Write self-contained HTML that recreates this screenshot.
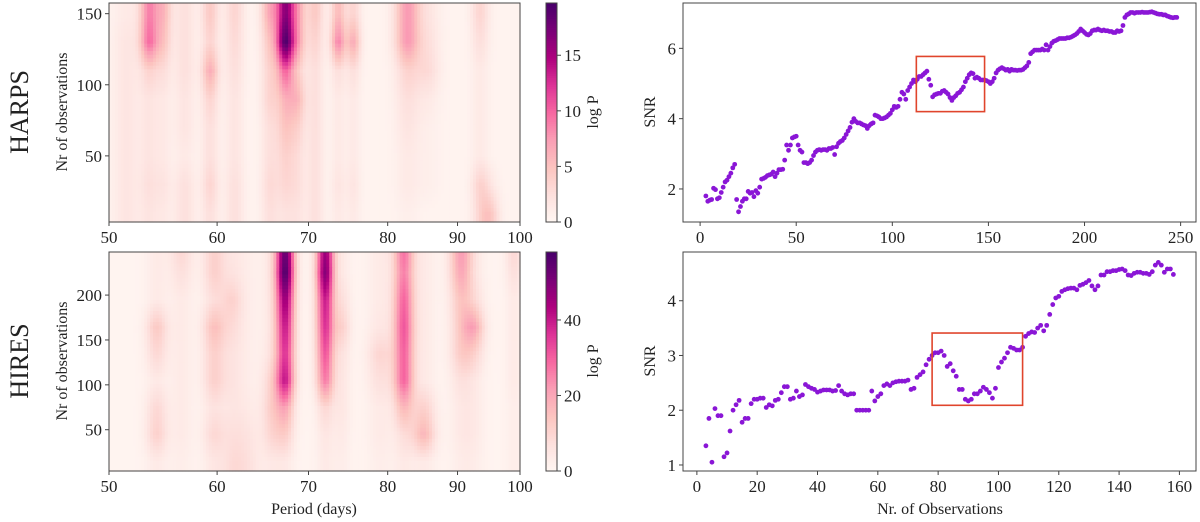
<!DOCTYPE html>
<html><head><meta charset="utf-8"><style>
html,body{margin:0;padding:0;background:#fff;width:1200px;height:522px;overflow:hidden}
svg{display:block}
text{font-family:"Liberation Serif","DejaVu Serif",serif;fill:#222}
</style></head><body>
<svg id="fig" width="1200" height="522" viewBox="0 0 1200 522" xmlns="http://www.w3.org/2000/svg">
<g id="hm1"></g>
<g id="hm2"></g>
<g id="cb1"></g>
<g id="cb2"></g>
<g id="sc1"></g>
<g id="sc2"></g>
<g id="ax"></g>
<text transform="translate(28,112) rotate(-90)" text-anchor="middle" font-size="26">HARPS</text>
<text transform="translate(28,361) rotate(-90)" text-anchor="middle" font-size="26">HIRES</text>
<text transform="translate(67,112) rotate(-90)" text-anchor="middle" font-size="16">Nr of observations</text>
<text transform="translate(67,361) rotate(-90)" text-anchor="middle" font-size="16">Nr of observations</text>
<text transform="translate(598,112) rotate(-90)" text-anchor="middle" font-size="16">log P</text>
<text transform="translate(598,361) rotate(-90)" text-anchor="middle" font-size="16">log P</text>
<text transform="translate(655,112) rotate(-90)" text-anchor="middle" font-size="16">SNR</text>
<text transform="translate(655,361) rotate(-90)" text-anchor="middle" font-size="16">SNR</text>
<text x="314" y="514" text-anchor="middle" font-size="16">Period (days)</text>
<text x="940" y="514" text-anchor="middle" font-size="16">Nr. of Observations</text>
</svg>
<script>
// ---------- data ----------
const harpsRows=[10,30,50,70,90,110,130,150];
const harpsBandPeriods=[51.5,53.5,54.8,56.8,59.3,61.8,65.6,67.3,68.7,70.8,73.6,75.5,82.7,85.5,93.5,95];
const harpsBandWidths=[0.8,0.6,0.55,0.7,0.6,0.7,0.7,0.7,0.7,0.7,0.65,0.65,1.2,1.3,1.0,1.1];
const harpsBandStrengths=[
[1.5,1.5,1.5,1.5,1.5,1.5,1.5,1],
[1.5,2,1.5,1.5,1.5,3,9,8],
[1,1.5,1,1,1,2,4,5],
[2,2,1,1.5,1.5,2,2,2],
[2,3,2,2,3,6,3,4],
[2,2,1.5,1.5,1.5,2,2.5,3],
[2,2.5,2,2,3,3,4,6],
[1.5,2.5,3,4,5,9,18,15],
[1.5,2,2,3,5,3,6,6],
[2,2,2,2,2,2,3,4],
[1,1.5,1,1,1,2,8,5],
[1,1.5,1,1,1,2,6,3],
[0.5,1,1,1.5,2,3,7,7],
[0,0.5,0.5,0.5,1,2.5,2,1.5],
[2,3,1,1,1,1,2,3],
[4,1,0,0,0,0,0,0]];
const harpsBackground=0.4;
const harpsVmax=19.7;

const hiresRows=[15,45,75,105,135,165,195,225,245];
const hiresBandPeriods=[54.2,56.5,59.7,61.5,63,65.8,67.3,72,74,79,82.2,85,90.5,92.5,99];
const hiresBandWidths=[0.7,0.8,0.8,0.8,1.1,0.8,0.75,0.75,0.8,1.2,1.0,1.2,1.2,1.2,1.0];
const hiresBandStrengths=[
[3,10,8,3,8,12,3,3,3],
[2,3,3,3,3,3,3,6,8],
[4,8,5,10,10,14,6,10,10],
[5,4,3,4,4,6,9,4,3],
[6,5,3,2,2,2,2,2,2],
[3,8,10,8,4,3,3,3,3],
[3,10,18,38,34,38,44,55,52],
[3,4,8,25,30,35,38,48,45],
[2,3,4,4,5,10,6,3,3],
[2,3,3,6,9,4,3,3,3],
[3,6,15,28,28,30,28,24,26],
[3,16,10,3,3,3,3,3,3],
[2,3,3,5,10,10,12,18,20],
[2,3,3,3,8,18,6,3,3],
[2,2,2,3,3,3,3,6,8]];
const hiresBackground=1.0;
const hiresVmax=58;

const periodTicks=[50,60,70,80,90,100];
const harpsYTicks=[50,100,150];
const hiresYTicks=[50,100,150,200];
const harpsCbTicks=[0,5,10,15];
const hiresCbTicks=[0,20,40];

const harpsSnrStart=3;
const harpsSnr=[1.8,1.65,1.68,1.7,2.02,1.98,1.72,1.75,1.9,2.05,2.2,2.25,2.35,2.45,2.6,2.7,
1.7,1.35,1.5,1.65,1.72,1.72,1.93,1.88,1.9,1.78,1.95,1.88,2.05,
2.28,2.3,2.33,2.38,2.4,2.42,2.48,2.35,2.45,2.55,2.55,2.56,
2.82,3.25,3.1,3.25,3.45,3.48,3.5,3.25,3.1,3.05,
2.75,2.75,2.72,2.75,2.82,2.95,3.05,
3.1,3.12,3.1,3.12,3.12,3.1,3.15,3.15,3.18,
2.98,3.2,3.3,3.35,3.38,3.45,3.55,3.65,3.75,3.9,4.0,
3.92,3.88,3.88,3.85,3.82,3.8,3.72,3.8,3.85,3.88,4.1,4.08,
4.05,4.0,4.0,4.02,4.05,4.1,4.15,4.25,4.35,
4.32,4.35,4.55,4.75,4.7,4.55,4.8,4.9,5.0,5.1,5.05,
5.12,5.2,5.2,5.25,5.3,5.35,5.12,
4.95,4.62,4.68,4.7,4.72,4.72,4.78,4.8,4.75,4.7,4.6,4.52,4.6,4.65,4.72,4.75,
4.82,4.9,5.05,5.15,5.25,5.3,5.28,5.15,5.18,5.15,5.1,5.1,
5.1,5.08,5.05,5.0,5.05,5.15,5.3,5.38,5.42,5.45,5.42,5.38,5.4,
5.35,5.4,5.38,5.38,5.37,5.38,5.38,5.4,5.45,5.5,5.6,5.85,
5.9,5.95,5.95,5.95,5.95,5.98,5.95,6.1,5.95,6.05,6.15,6.2,6.22,6.25,
6.28,6.28,6.28,6.28,6.3,6.3,6.32,6.35,6.38,6.42,6.48,6.55,6.5,
6.45,6.4,6.38,6.42,6.5,6.52,6.52,6.55,6.52,6.5,6.52,6.5,6.5,6.48,6.48,6.45,6.45,6.5,6.48,6.5,6.65,
6.88,6.95,6.98,7.02,7.02,7.0,7.02,7.02,7.02,7.03,7.02,7.02,7.02,7.03,7.04,7.02,7.0,6.98,6.97,6.97,6.95,6.95,6.92,6.9,6.88,6.87,6.88,6.88];
const harpsBox=[112.5,148,4.2,5.77];
const harpsXTicks=[0,50,100,150,200,250];
const harpsSnrTicks=[2,4,6];

const hiresSnrStart=3;
const hiresSnr=[1.35,1.85,1.05,2.03,1.9,1.9,1.15,1.22,1.62,2.0,2.1,2.18,1.78,1.85,1.85,2.12,2.2,2.2,2.22,2.22,
2.05,2.1,2.08,2.18,2.2,2.32,2.43,2.43,2.2,2.22,2.35,2.25,2.28,2.47,2.43,2.4,2.38,2.33,2.35,2.37,
2.37,2.37,2.35,2.36,2.45,2.35,2.3,2.28,2.3,2.3,2.0,2.0,2.0,2.0,2.0,2.35,2.17,2.25,2.3,2.45,
2.48,2.45,2.5,2.52,2.53,2.53,2.53,2.55,2.38,2.4,2.6,2.65,2.7,2.83,2.93,3.0,3.05,3.05,3.08,3.0,
2.8,2.85,2.72,2.62,2.38,2.38,2.2,2.17,2.2,2.3,2.3,2.35,2.42,2.38,2.32,2.22,2.4,2.78,2.88,2.95,
3.05,3.15,3.13,3.1,3.1,3.15,3.35,3.4,3.43,3.42,3.5,3.55,3.45,3.55,3.75,3.93,4.05,4.08,4.17,4.2,
4.22,4.23,4.23,4.2,4.28,4.3,4.33,4.37,4.27,4.2,4.27,4.47,4.47,4.53,4.53,4.55,4.55,4.57,4.58,4.55,
4.47,4.46,4.5,4.52,4.52,4.5,4.5,4.48,4.53,4.65,4.7,4.65,4.52,4.58,4.58,4.48];
const hiresBox=[78,108,2.09,3.41];
const hiresXTicks=[0,20,40,60,80,100,120,140,160];
const hiresSnrTicks=[1,2,3,4];

// ---------- helpers ----------
const NS='http://www.w3.org/2000/svg';
function mk(tag,attrs,parent){const e=document.createElementNS(NS,tag);for(const k in attrs)e.setAttribute(k,attrs[k]);parent.appendChild(e);return e;}
const cmapStops=[[255,247,243],[253,224,221],[252,197,192],[250,159,181],[247,104,161],[221,52,151],[174,1,126],[122,1,119],[73,0,106]];
function cmap(t){t=Math.max(0,Math.min(1,t));const f=t*8,i=Math.min(7,Math.floor(f)),r=f-i;const a=cmapStops[i],b=cmapStops[i+1];
return 'rgb('+Math.round(a[0]+(b[0]-a[0])*r)+','+Math.round(a[1]+(b[1]-a[1])*r)+','+Math.round(a[2]+(b[2]-a[2])*r)+')';}
function interpRow(rows,vals,n){if(n<=rows[0])return vals[0];for(let i=0;i<rows.length-1;i++){if(n<=rows[i+1]){const r=(n-rows[i])/(rows[i+1]-rows[i]);return vals[i]+(vals[i+1]-vals[i])*r;}}return vals[vals.length-1];}
function logX(x0,x1){return p=>x0+Math.log(p/50)/Math.log(2)*(x1-x0);}
function linY(y0,y1,v0,v1){return v=>y1-(v-v0)/(v1-v0)*(y1-y0);}
function linX(x0,x1,v0,v1){return v=>x0+(v-v0)/(v1-v0)*(x1-x0);}

function heatmap(g,x0,x1,y0,y1,n0,n1,rows,periods,widths,strengths,bg,vmax){
  const NC=140,NR=60;
  const xs=logX(x0,x1), ys=linY(y0,y1,n0,n1);
  for(let r=0;r<NR;r++){
    const na=n0+(n1-n0)*r/NR, nb=n0+(n1-n0)*(r+1)/NR, n=(na+nb)/2;
    const ya=ys(nb), yb=ys(na);
    for(let c=0;c<NC;c++){
      const pa=50*Math.pow(2,c/NC), pb=50*Math.pow(2,(c+1)/NC), p=Math.sqrt(pa*pb);
      let v=bg;
      for(let k=0;k<periods.length;k++){const d=(p-periods[k])/widths[k];v+=interpRow(rows,strengths[k],n)*Math.exp(-0.5*d*d);}
      const cell=mk('rect',{x:xs(pa).toFixed(2),y:ya.toFixed(2),width:(xs(pb)-xs(pa)+0.6).toFixed(2),height:(yb-ya+0.6).toFixed(2),fill:cmap(v/vmax)},g);
      
      
    }
  }
}
function frame(g,x0,y0,x1,y1,name){const f=mk('rect',{x:x0,y:y0,width:x1-x0,height:y1-y0,fill:'none',stroke:'#444','stroke-width':1},g);
  
  }
function xticks(g,ticks,sx,y,name){ticks.forEach(t=>{const x=sx(t);mk('line',{x1:x,x2:x,y1:y,y2:y+4,stroke:'#444'},g);
  const tx=mk('text',{x:x,y:y+21,'text-anchor':'middle','font-size':17},g);tx.textContent=t;
  
  });}
function yticks(g,ticks,sy,x,name,right){ticks.forEach(t=>{const y=sy(t);
  mk('line',{x1:x,x2:right?x+4:x-4,y1:y,y2:y,stroke:'#444'},g);
  const tx=mk('text',{x:right?x+7:x-7,y:y+6,'text-anchor':right?'start':'end','font-size':17},g);tx.textContent=t;
  
  });}
function colorbar(g,x0,x1,y0,y1,vmax,ticks,ax){
  const N=100;for(let i=0;i<N;i++){const ya=y1-(y1-y0)*(i+1)/N;
    const s=mk('rect',{x:x0,y:ya.toFixed(2),width:x1-x0,height:((y1-y0)/N+0.6).toFixed(2),fill:cmap((i+0.5)/N)},g);
    
    }
  frame(ax,x0,y0,x1,y1,'colorbar-frame');
  yticks(ax,ticks,linY(y0,y1,0,vmax),x1,'colorbar-tick-label',true);
}
function scatter(g,ax,x0,x1,y0,y1,xr,yr,start,vals,box,xt,yt){
  const sx=linX(x0,x1,xr[0],xr[1]), sy=linY(y0,y1,yr[0],yr[1]);
  vals.forEach((v,i)=>{const c=mk('circle',{cx:sx(start+i).toFixed(2),cy:sy(v).toFixed(2),r:2.4,fill:'#8a16d6'},g);
    
    });
  const b=mk('rect',{x:sx(box[0]),y:sy(box[3]),width:sx(box[1])-sx(box[0]),height:sy(box[2])-sy(box[3]),fill:'none',stroke:'#e0452c','stroke-width':1.6},g);
  
  
  frame(ax,x0,y0,x1,y1,'scatter-frame');
  xticks(ax,xt,sx,y1,'x-tick-label');
  yticks(ax,yt,sy,x0,'y-tick-label',false);
}

const ax=document.getElementById('ax');
heatmap(document.getElementById('hm1'),109,520,3,222,3.5,157.5,harpsRows,harpsBandPeriods,harpsBandWidths,harpsBandStrengths,harpsBackground,harpsVmax);
frame(ax,109,3,520,222,'harps-heatmap-frame');
xticks(ax,periodTicks,logX(109,520),222,'period-tick-label');
yticks(ax,harpsYTicks,linY(3,222,3.5,157.5),109,'obs-tick-label',false);
colorbar(document.getElementById('cb1'),546,557,3,222,harpsVmax,harpsCbTicks,ax);
heatmap(document.getElementById('hm2'),109,520,252,471,4,248,hiresRows,hiresBandPeriods,hiresBandWidths,hiresBandStrengths,hiresBackground,hiresVmax);
frame(ax,109,252,520,471,'hires-heatmap-frame');
xticks(ax,periodTicks,logX(109,520),471,'period-tick-label');
yticks(ax,hiresYTicks,linY(252,471,4,248),109,'obs-tick-label',false);
colorbar(document.getElementById('cb2'),546,557,252,471,hiresVmax,hiresCbTicks,ax);
scatter(document.getElementById('sc1'),ax,683,1196,3,222,[-8.9,258],[1.06,7.29],harpsSnrStart,harpsSnr,harpsBox,harpsXTicks,harpsSnrTicks);
scatter(document.getElementById('sc2'),ax,683,1196,252,471,[-4.6,165.5],[0.89,4.89],hiresSnrStart,hiresSnr,hiresBox,hiresXTicks,hiresSnrTicks);
</script>
</body></html>
